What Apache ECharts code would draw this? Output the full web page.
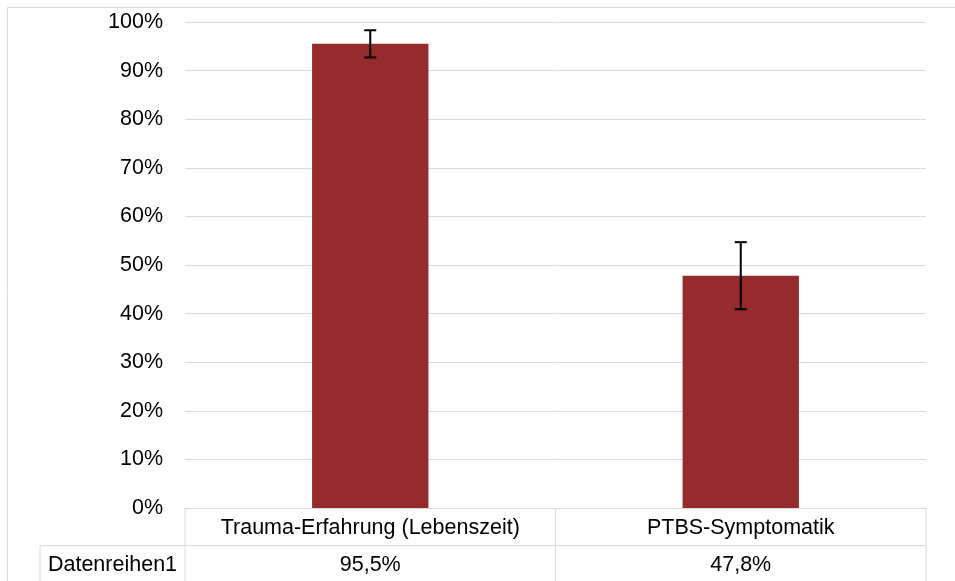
<!DOCTYPE html>
<html>
<head>
<meta charset="utf-8">
<script src="https://cdn.jsdelivr.net/npm/echarts@6/dist/echarts.min.js"></script>
<style>
html,body{margin:0;padding:0;background:#fff;}
#c{width:955px;height:581px;}
</style>
</head>
<body>
<div id="c"></div>
<script>
const categories = ['Trauma-Erfahrung (Lebenszeit)', 'PTBS-Symptomatik'];
const values = [95.5, 47.8];
const errors = [2.8, 6.9];
const seriesName = 'Datenreihen1';
const yTicks = { min: 0, max: 100, interval: 10 };

const FONT = 'Liberation Sans';
const FS = 21.5;
const GRID = '#d9d9d9';
const valueLabels = values.map(v => v.toFixed(1).replace('.', ',') + '%');

const chart = echarts.init(document.getElementById('c'), null, { renderer: 'canvas' });

const option = {
  animation: false,
  backgroundColor: '#fff',
  grid: { left: 185, right: 29, top: 22, bottom: 73, containLabel: false },
  xAxis: {
    type: 'category',
    data: categories,
    axisLine: { show: true, lineStyle: { color: GRID, width: 1 } },
    axisTick: { show: false },
    axisLabel: {
      interval: 0,
      margin: 1,
      formatter: (val, idx) => '{c|' + val + '}\n{v|' + valueLabels[idx] + '}',
      rich: {
        c: { fontFamily: FONT, fontSize: FS, color: '#000', lineHeight: 37.5, align: 'center' },
        v: { fontFamily: FONT, fontSize: FS, color: '#000', lineHeight: 37.5, align: 'center' }
      }
    },
    splitLine: { show: false }
  },
  yAxis: {
    type: 'value',
    min: yTicks.min, max: yTicks.max, interval: yTicks.interval,
    axisLine: { show: false },
    axisTick: { show: false },
    axisLabel: {
      margin: 22,
      formatter: '{value}%',
      padding: [4, 0, 0, 0],
      fontFamily: FONT, fontSize: FS, color: '#000'
    },
    splitLine: { show: true, lineStyle: { color: GRID, width: 1 } }
  },
  series: [
    {
      name: seriesName,
      type: 'bar',
      data: values,
      barWidth: '31.4%',
      itemStyle: { color: '#952B2D' },
      z: 2
    },
    {
      type: 'custom',
      data: values.map((v, i) => [i, v - errors[i], v + errors[i]]),
      z: 5,
      renderItem: function (params, api) {
        const i = api.value(0);
        const lo = api.coord([i, api.value(1)]);
        const hi = api.coord([i, api.value(2)]);
        const hw = 6;
        const st = { stroke: '#000', lineWidth: 2 };
        return {
          type: 'group',
          children: [
            { type: 'line', shape: { x1: lo[0], y1: lo[1], x2: hi[0], y2: hi[1] }, style: st },
            { type: 'line', shape: { x1: hi[0] - hw, y1: hi[1], x2: hi[0] + hw, y2: hi[1] }, style: st },
            { type: 'line', shape: { x1: lo[0] - hw, y1: lo[1], x2: lo[0] + hw, y2: lo[1] }, style: st }
          ]
        };
      }
    }
  ]
};
chart.setOption(option);

// Data table borders and series name cell
const c0 = chart.convertToPixel({ xAxisIndex: 0 }, 0);
const c1 = chart.convertToPixel({ xAxisIndex: 0 }, 1);
const step = c1 - c0;
const xL = c0 - step / 2, xM = (c0 + c1) / 2, xR = c1 + step / 2;
const y0 = chart.convertToPixel({ yAxisIndex: 0 }, 0);
const rowH = 37.5;
const yRow2 = y0 + rowH;
const yEnd = 600;
const legendLeft = 40;
const ls = { stroke: GRID, lineWidth: 1 };
const ln = (x1, y1, x2, y2) => ({ type: 'line', silent: true, shape: { x1, y1, x2, y2 }, style: ls });

chart.setOption({
  graphic: [
    { type: 'rect', silent: true, shape: { x: 7.5, y: 7.5, width: 1000, height: 1000 }, style: { fill: null, stroke: GRID, lineWidth: 1 }, z: 0 },
    ln(xL, y0, xL, yEnd),
    ln(xM, y0, xM, yEnd),
    ln(xR, y0, xR, yEnd),
    ln(legendLeft, yRow2, xR, yRow2),
    ln(legendLeft, yRow2, legendLeft, yEnd),
    {
      type: 'text', silent: true,
      x: (legendLeft + xL) / 2, y: yRow2 + rowH / 2 + 1,
      style: { text: seriesName, fontFamily: FONT, fontSize: FS, fill: '#000', align: 'center', verticalAlign: 'middle' }
    }
  ]
});
</script>
</body>
</html>
